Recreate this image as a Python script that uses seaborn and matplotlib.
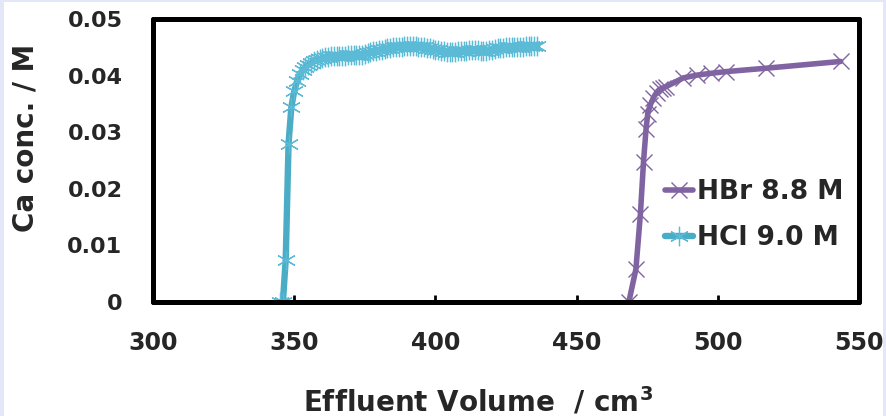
import matplotlib
matplotlib.use("Agg")
import matplotlib.pyplot as plt
import seaborn as sns
import pandas as pd
from matplotlib.patches import Rectangle

# ---------------- data ----------------
hbr_label = "HBr 8.8 M"
hcl_label = "HCl 9.0 M"

hbr_volume = [468.5, 471.0, 472.6, 473.7, 474.6, 475.2, 476.1, 477.2, 478.3,
              479.4, 480.5, 481.5, 487.8, 492.8, 497.5, 502.8, 517.0, 543.5]
hbr_conc = [0.0, 0.0058, 0.0156, 0.0248, 0.0306, 0.0333, 0.0348, 0.0361, 0.0370,
            0.0376, 0.0378, 0.0380, 0.0396, 0.0401, 0.0404, 0.0407, 0.0413, 0.0425]

hcl_volume = [345, 346, 347, 348, 349, 350, 351, 352, 353, 354,
              355, 356, 357, 358, 359, 360, 361, 362, 363, 364,
              365, 366, 367, 368, 369, 370, 371, 372, 373, 374,
              375, 376, 377, 378, 379, 380, 381, 382, 383, 384,
              385, 386, 387, 388, 389, 390, 391, 392, 393, 394,
              395, 396, 397, 398, 399, 400, 401, 402, 403, 404,
              405, 406, 407, 408, 409, 410, 411, 412, 413, 414,
              415, 416, 417, 418, 419, 420, 421, 422, 423, 424,
              425, 426, 427, 428, 429, 430, 431, 432, 433, 434,
              435, 436]
hcl_conc = [0.0, 0.0, 0.0075, 0.0280, 0.0345, 0.0372, 0.0390, 0.0402, 0.0410, 0.0415,
            0.0419, 0.0422, 0.0425, 0.0427, 0.0429, 0.0431, 0.0432, 0.0433, 0.0434, 0.0434,
            0.0435, 0.0435, 0.0435, 0.0435, 0.0436, 0.0436, 0.0436, 0.0436, 0.0437, 0.0437,
            0.0438, 0.0440, 0.0441, 0.0443, 0.0444, 0.0445, 0.0446, 0.0447, 0.0448, 0.0449,
            0.0450, 0.0450, 0.0451, 0.0451, 0.0452, 0.0452, 0.0452, 0.0452, 0.0452, 0.0451,
            0.0451, 0.0450, 0.0449, 0.0448, 0.0447, 0.0446, 0.0445, 0.0444, 0.0443, 0.0442,
            0.0442, 0.0442, 0.0442, 0.0443, 0.0443, 0.0444, 0.0444, 0.0445, 0.0445, 0.0445,
            0.0445, 0.0444, 0.0444, 0.0444, 0.0445, 0.0446, 0.0447, 0.0448, 0.0449, 0.0449,
            0.0450, 0.0450, 0.0450, 0.0451, 0.0451, 0.0451, 0.0451, 0.0452, 0.0452, 0.0452,
            0.0452, 0.0452]

x_ticks = [300, 350, 400, 450, 500, 550]
y_ticks = [0, 0.01, 0.02, 0.03, 0.04, 0.05]
y_tick_labels = ["0", "0.01", "0.02", "0.03", "0.04", "0.05"]
x_label = "Effluent Volume  / cm$^\\mathbf{3}$"
y_label = "Ca conc. / M"

hbr_color = "#8064A2"
hcl_color = "#4BACC6"

# ---------------- plot ----------------
sns.set_theme(style="white")
plt.rcParams["font.family"] = ["DejaVu Sans"]
plt.rcParams["font.weight"] = "bold"

W, H = 886, 416
fig = plt.figure(figsize=(W / 100, H / 100), dpi=100, facecolor="white")

# slide background edges
for (x0, y0, w, h) in [(0, 0, 4, H), (W - 3, 0, 3, H), (0, H - 2, W, 2)]:
    fig.patches.append(Rectangle((x0 / W, y0 / H), w / W, h / H,
                                 transform=fig.transFigure, facecolor="#E4E7F8",
                                 edgecolor="none", zorder=0))

ax = fig.add_axes([153 / W, 1 - 302 / H, (859 - 153) / W, (302 - 19) / H])
ax.set_facecolor("white")

df_hbr = pd.DataFrame({"volume": hbr_volume, "conc": hbr_conc})
df_hcl = pd.DataFrame({"volume": hcl_volume, "conc": hcl_conc})

sns.lineplot(data=df_hbr, x="volume", y="conc", ax=ax, sort=False,
             color=hbr_color, linewidth=4.0, marker="x", markersize=11,
             markeredgewidth=1.0, markeredgecolor=hbr_color, label=hbr_label)
sns.lineplot(data=df_hcl, x="volume", y="conc", ax=ax, sort=False,
             color=hcl_color, linewidth=4.6, marker=(6, 2, 0), markersize=14,
             markeredgewidth=0.9, markeredgecolor="#5BBAD5", label=hcl_label)

ax.set_xlim(300, 550)
ax.set_ylim(0, 0.05)
ax.set_xticks(x_ticks)
ax.set_yticks(y_ticks)
ax.set_yticklabels(y_tick_labels)

for s in ax.spines.values():
    s.set_visible(True)
    s.set_color("black")
    s.set_linewidth(3.6)
    s.set_capstyle("round")
    s.set_joinstyle("round")

ax.tick_params(axis="x", direction="in", length=5, width=2, color="black",
               labelsize=17, pad=21, bottom=True, top=False)
ax.tick_params(axis="y", length=0, labelsize=16, pad=22, left=True)
for lbl in ax.get_xticklabels() + ax.get_yticklabels():
    lbl.set_fontweight("bold")

ax.set_xlabel(x_label, fontsize=20, fontweight="bold")
ax.set_ylabel(y_label, fontsize=20, fontweight="bold")
ax.xaxis.set_label_coords(0.46, -0.35)
ax.xaxis.label.set_va("center")
ax.yaxis.set_label_coords(-0.18, 0.58)
ax.yaxis.label.set_va("center")

leg = ax.legend(loc="center left", bbox_to_anchor=(665 / W, 1 - 215 / H),
                bbox_transform=fig.transFigure, frameon=False,
                prop={"weight": "bold", "size": 19}, handlelength=1.06,
                handletextpad=0.15, borderpad=0, borderaxespad=0,
                labelspacing=0.75)

fig.savefig("out.png", dpi=100, facecolor=fig.get_facecolor())
